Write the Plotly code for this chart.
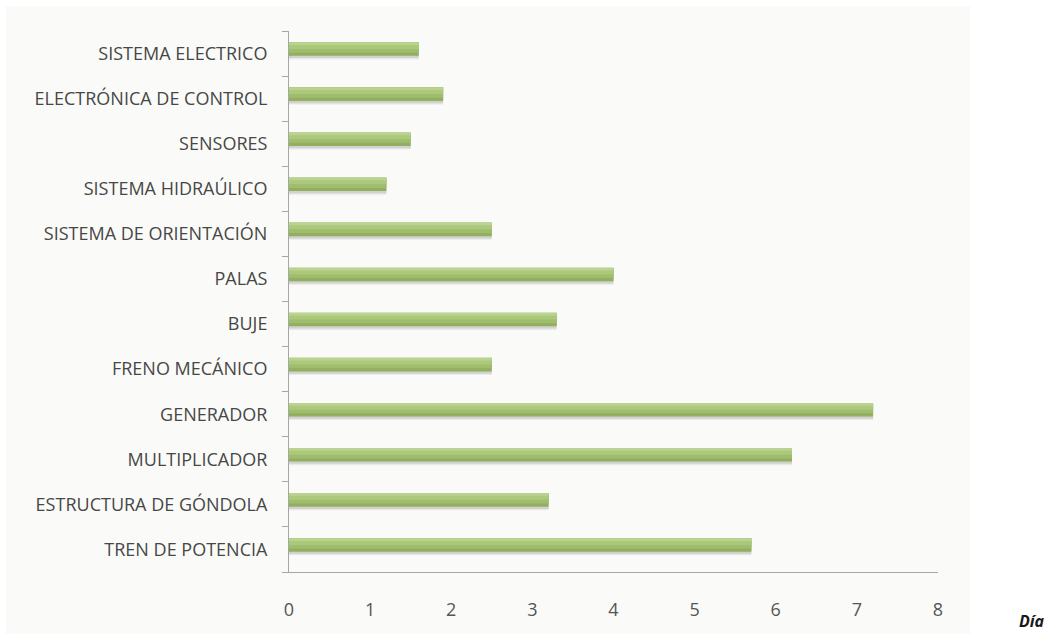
import plotly.graph_objects as go

# Components, listed from the bottom of the chart upward
categories = [
    "TREN DE POTENCIA",
    "ESTRUCTURA DE GÓNDOLA",
    "MULTIPLICADOR",
    "GENERADOR",
    "FRENO MECÁNICO",
    "BUJE",
    "PALAS",
    "SISTEMA DE ORIENTACIÓN",
    "SISTEMA HIDRAÚLICO",
    "SENSORES",
    "ELECTRÓNICA DE CONTROL",
    "SISTEMA ELECTRICO",
]
dias = [5.7, 3.2, 6.2, 7.2, 2.5, 3.3, 4.0, 2.5, 1.2, 1.5, 1.9, 1.6]
x_ticks = [0, 1, 2, 3, 4, 5, 6, 7, 8]

fig = go.Figure()

# bar body: soft shadow, dark base, then lighter bands toward the top
layers = [
    dict(color="rgba(90,90,90,0.16)", width=0.31, offset=-0.10),
    dict(color="rgba(90,90,90,0.10)", width=0.33, offset=-0.13),
    dict(color="#91af5f", width=0.30, offset=-0.05),
    dict(color="#9fbd6d", width=0.22, offset=0.02),
    dict(color="#acc87b", width=0.14, offset=0.10),
    dict(color="#bad390", width=0.06, offset=0.19),
]
for i, lay in enumerate(layers):
    fig.add_trace(go.Bar(
        x=dias, y=categories, orientation="h",
        width=lay["width"], offset=lay["offset"],
        marker=dict(color=lay["color"], line=dict(width=0)),
        hoverinfo="x+y" if i == 2 else "skip",
        showlegend=False,
    ))

# plot-area geometry in pixels (used for the background panel)
L, R, T, B = 289, 938, 31, 572
W, H = 1059, 635
pw, ph = R - L, B - T

fig.add_shape(
    type="rect", xref="paper", yref="paper", layer="below",
    x0=(6 - L) / pw, x1=(970 - L) / pw,
    y0=(B - 634) / ph, y1=(B - 6) / ph,
    fillcolor="#fafbf8", line=dict(width=0),
)

fig.add_annotation(
    text="<b><i>Día</i></b>", xref="paper", yref="paper",
    x=(1032 - L) / pw, y=(B - 621) / ph, showarrow=False,
    font=dict(family="Open Sans", size=16, color="#1a1a1a"),
    xanchor="center", yanchor="middle",
)

fig.update_layout(
    width=W, height=H,
    margin=dict(l=L, r=W - R, t=T, b=H - B),
    barmode="overlay",
    paper_bgcolor="white",
    plot_bgcolor="rgba(0,0,0,0)",
    font=dict(family="Open Sans", size=18, color="#474747"),
    xaxis=dict(
        range=[0, 8], tickvals=x_ticks, showgrid=False, zeroline=False,
        showline=True, linecolor="#a6a6a6", linewidth=1,
        ticks="", ticklabelstandoff=21,
        tickfont=dict(family="Open Sans", size=18, color="#555555"),
        fixedrange=True,
    ),
    yaxis=dict(
        categoryorder="array", categoryarray=categories,
        showgrid=False, zeroline=False,
        showline=True, linecolor="#a6a6a6", linewidth=1,
        ticks="outside", ticklen=6, tickcolor="#a6a6a6",
        tickson="boundaries", ticklabelstandoff=17,
        tickfont=dict(family="Open Sans", size=18, color="#474747"),
        fixedrange=True,
    ),
)

fig.write_html("out.html")
